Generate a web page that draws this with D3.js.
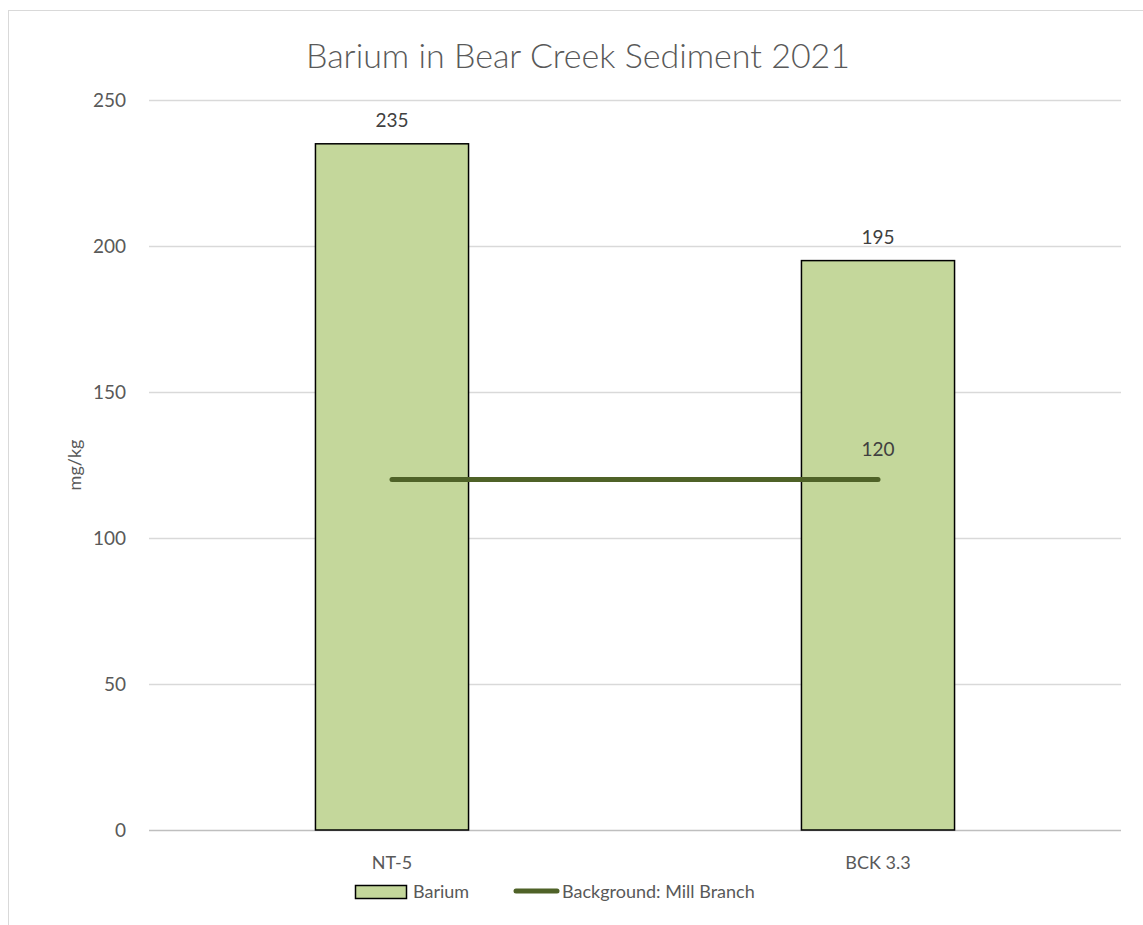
<!DOCTYPE html>
<html>
<head>
<meta charset="utf-8">
<script src="https://cdn.jsdelivr.net/npm/d3@7"></script>
<style>
  body { margin: 0; background: #fff; }
  text { font-family: Lato, "Open Sans", sans-serif; }
</style>
</head>
<body>
<div id="chart"></div>
<script>
// data
const sites = ["NT-5", "BCK 3.3"];
const barium = [235, 195];
const background = [120, 120];
const yTicks = [0, 50, 100, 150, 200, 250];

const W = 1143, H = 925;
const m = { left: 149, right: 22, top: 100, bottom: 95 };

const svg = d3.select("#chart").append("svg")
  .attr("width", W).attr("height", H);

// outer chart border
svg.append("rect")
  .attr("x", 8.5).attr("y", 10.5)
  .attr("width", W + 20).attr("height", H + 20)
  .attr("fill", "none").attr("stroke", "#d9d9d9");

const x = d3.scaleBand().domain(sites)
  .range([m.left, W - m.right]).paddingInner(0.685).paddingOuter(0.3425);
const y = d3.scaleLinear().domain([0, 250]).range([H - m.bottom, m.top]);
const cx = d => x(d) + x.bandwidth() / 2;

// gridlines
svg.append("g").selectAll("line").data(yTicks).enter().append("line")
  .attr("x1", m.left).attr("x2", W - m.right)
  .attr("y1", d => Math.round(y(d)) + 0.5).attr("y2", d => Math.round(y(d)) + 0.5)
  .attr("stroke", d => d === 0 ? "#bfbfbf" : "#d9d9d9").attr("stroke-width", 1.3);

// y tick labels
svg.append("g").selectAll("text").data(yTicks).enter().append("text")
  .attr("x", 126).attr("y", d => y(d) + 7)
  .attr("text-anchor", "end").attr("font-size", 19).attr("fill", "#595959")
  .text(d => d);

// bars
svg.append("g").selectAll("rect").data(barium).enter().append("rect")
  .attr("x", (d, i) => x(sites[i])).attr("width", x.bandwidth())
  .attr("y", d => y(d)).attr("height", d => y(0) - y(d))
  .attr("fill", "#c4d79b").attr("stroke", "#000").attr("stroke-width", 1.5);

// bar labels
svg.append("g").selectAll("text").data(barium).enter().append("text")
  .attr("x", (d, i) => cx(sites[i])).attr("y", d => y(d) - 17)
  .attr("text-anchor", "middle").attr("font-size", 19).attr("fill", "#404040")
  .text(d => d);

// background line
const line = d3.line().x((d, i) => cx(sites[i])).y(d => y(d));
svg.append("path").datum(background)
  .attr("d", line).attr("fill", "none")
  .attr("stroke", "#4f6228").attr("stroke-width", 5).attr("stroke-linecap", "round");

svg.append("text")
  .attr("x", cx(sites[1])).attr("y", y(background[1]) - 24)
  .attr("text-anchor", "middle").attr("font-size", 19).attr("fill", "#404040")
  .text(background[1]);

// x labels
svg.append("g").selectAll("text").data(sites).enter().append("text")
  .attr("x", d => cx(d)).attr("y", 869)
  .attr("text-anchor", "middle").attr("font-size", 18).attr("fill", "#595959")
  .text(d => d);

// y axis title
svg.append("text")
  .attr("transform", "translate(81," + ((m.top + H - m.bottom) / 2) + ") rotate(-90)")
  .attr("text-anchor", "middle").attr("font-size", 18).attr("fill", "#595959")
  .text("mg/kg");

// title
svg.append("text")
  .attr("x", 578).attr("y", 68)
  .attr("text-anchor", "middle").attr("font-size", 34).attr("font-weight", 300)
  .attr("fill", "#595959")
  .text("Barium in Bear Creek Sediment 2021");

// legend
const lg = svg.append("g");
lg.append("rect").attr("x", 355.5).attr("y", 885.5).attr("width", 51).attr("height", 13)
  .attr("fill", "#c4d79b").attr("stroke", "#000").attr("stroke-width", 1.5);
lg.append("text").attr("x", 413).attr("y", 898).attr("font-size", 18).attr("fill", "#595959")
  .text("Barium");
lg.append("line").attr("x1", 516).attr("x2", 557).attr("y1", 891).attr("y2", 891)
  .attr("stroke", "#4f6228").attr("stroke-width", 5).attr("stroke-linecap", "round");
lg.append("text").attr("x", 562).attr("y", 898).attr("font-size", 18).attr("fill", "#595959")
  .text("Background: Mill Branch");
</script>
</body>
</html>
